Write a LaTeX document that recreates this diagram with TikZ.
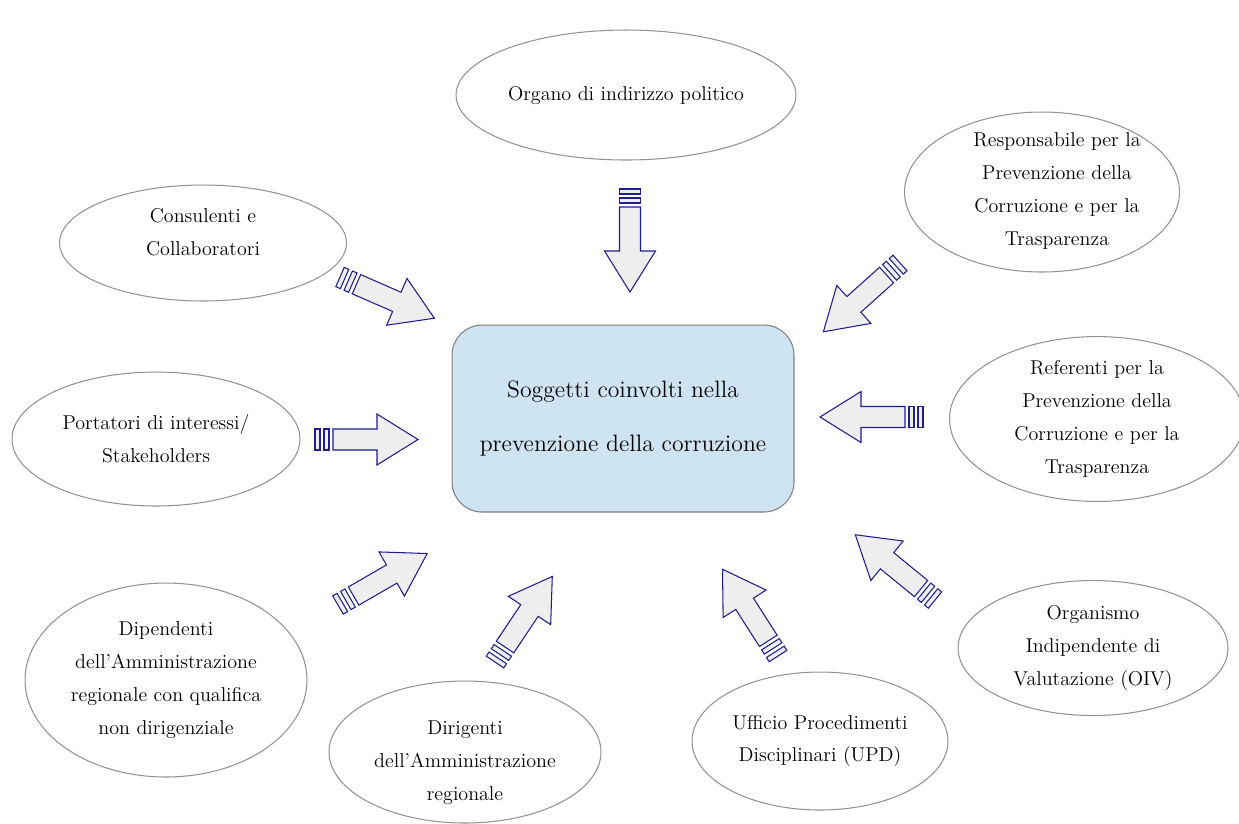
\documentclass[tikz,border=0pt]{standalone}
\usetikzlibrary{shapes.geometric}

\definecolor{boxblue}{RGB}{207,228,242}
\definecolor{arrowblue}{RGB}{30,30,140}
\definecolor{arrowfill}{RGB}{238,238,238}

\tikzset{
  actor/.style={ellipse,draw=gray!85,line width=0.6pt,fill=white,inner sep=0pt,
    align=center,font=\fontsize{11.4}{18.7}\selectfont},
  actortext/.style={align=center,inner sep=0pt,font=\fontsize{11.4}{18.7}\selectfont},
  mainbox/.style={rectangle,rounded corners=0.6cm,draw=gray,line width=0.6pt,fill=boxblue,
    minimum width=6.84cm,minimum height=3.74cm,align=center,
    font=\fontsize{13.5}{31}\selectfont},
  arrowbody/.style={draw=arrowblue,fill=arrowfill,line width=0.6pt,line join=miter}
}

% striped arrow: start x, start y, angle
\newcommand{\stripearrow}[3]{%
  \begin{scope}[shift={(#1,#2)},rotate=#3,y=0.02cm]
    \draw[arrowbody] (0,-10.5) rectangle (5,10.5);
    \draw[arrowbody] (9,-10.5) rectangle (14,10.5);
    \draw[arrowbody] (18,-10.5) -- (62,-10.5) -- (62,-25.5) -- (103,0)
      -- (62,25.5) -- (62,10.5) -- (18,10.5) -- cycle;
  \end{scope}}

\begin{document}
\begin{tikzpicture}[x=0.02cm,y=-0.02cm]
  \useasboundingbox (0,0) rectangle (1239,823);

  \node[mainbox] (centro) at (623,418.5) {Soggetti coinvolti nella\\prevenzione della corruzione};

  \node[actor,minimum width=6.8cm,minimum height=2.6cm] (organo) at (626,95) {Organo di indirizzo politico};
  \node[actor,minimum width=5.5cm,minimum height=3.2cm] (rpct) at (1042,192) {};
  \node[actortext] (rpcttesto) at (1057,191) {Responsabile per la\\Prevenzione della\\Corruzione e per la\\Trasparenza};
  \node[actor,minimum width=5.74cm,minimum height=2.32cm] (consulenti) at (203,243) {};
  \node[actortext] (consulentitesto) at (203,232) {Consulenti e\\Collaboratori};
  \node[actor,minimum width=5.76cm,minimum height=2.68cm] (portatori) at (156,439) {Portatori di interessi/\\Stakeholders};
  \node[actor,minimum width=5.9cm,minimum height=2.76cm] (referenti) at (1097,419) {Referenti per la\\Prevenzione della\\Corruzione e per la\\Trasparenza};
  \node[actor,minimum width=5.4cm,minimum height=2.7cm] (oiv) at (1093,648) {Organismo\\Indipendente di\\Valutazione (OIV)};
  \node[actor,minimum width=5.12cm,minimum height=2.76cm] (upd) at (820,741) {Ufficio Procedimenti\\Disciplinari (UPD)};
  \node[actor,minimum width=5.44cm,minimum height=2.84cm] (dirigenti) at (465,752) {};
  \node[actortext] (dirigentitesto) at (465,763) {Dirigenti\\dell'Amministrazione\\regionale};
  \node[actor,minimum width=5.64cm,minimum height=3.88cm] (dipendenti) at (166,680) {Dipendenti\\dell'Amministrazione\\regionale con qualifica\\non dirigenziale};

  \stripearrow{630}{189}{-90}
  \stripearrow{340}{277}{-23.6}
  \stripearrow{315}{439.5}{0}
  \stripearrow{900}{263}{221.9}
  \stripearrow{923}{417}{180}
  \stripearrow{935}{600}{140.7}
  \stripearrow{778}{656}{122.6}
  \stripearrow{495}{662}{56.2}
  \stripearrow{338}{605}{30}
\end{tikzpicture}
\end{document}
